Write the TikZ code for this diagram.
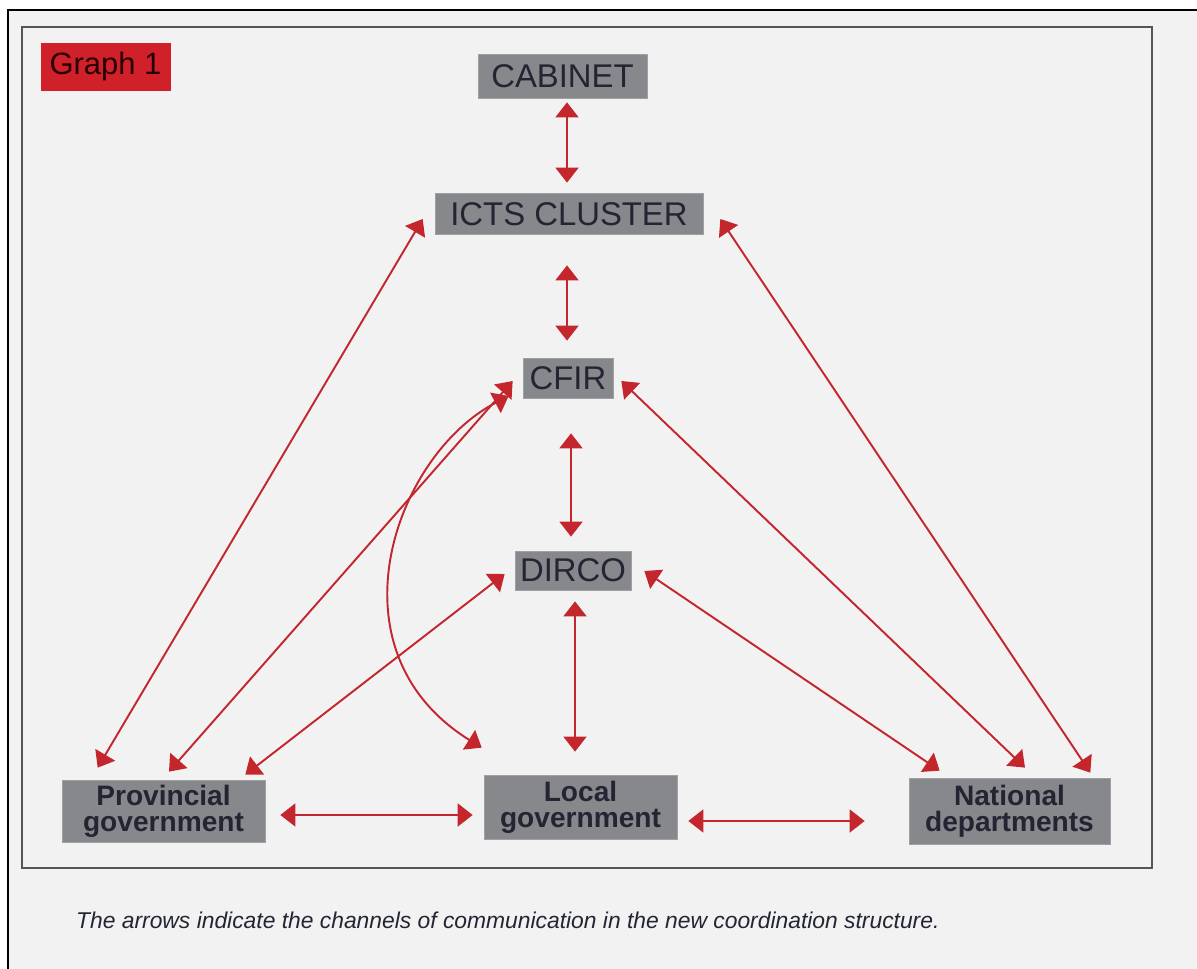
\documentclass[tikz,border=0pt]{standalone}
\usepackage{fontspec}
\setmainfont{Liberation Sans}
\usetikzlibrary{arrows.meta}
\definecolor{boxgray}{HTML}{87888C}
\definecolor{boxtext}{HTML}{232533}
\definecolor{arrowred}{HTML}{C4262E}
\definecolor{graphred}{HTML}{D0202A}
\definecolor{paper}{HTML}{F2F2F2}
\definecolor{framegray}{HTML}{555555}
\tikzset{
	box/.style={fill=boxgray, draw=boxgray!80!white, inner sep=0pt, text=boxtext, font=\fontsize{18.7}{20}\selectfont, text centered},
	unitbox/.style={box, align=center, font=\bfseries\fontsize{16}{15}\selectfont},
	link/.style={<->, >={Triangle[width=13pt,length=8.5pt]}, color=arrowred, line width=1.1pt},
	note/.style={font=\itshape\fontsize{13}{15}\selectfont, text=boxtext, anchor=base west}
}

\begin{document}
\begin{tikzpicture}[x=0.02cm, y=-0.02cm]
	
	\useasboundingbox (0,0) rectangle (1197,969);
	\fill[white] (0,0) rectangle (1197,969);
	\clip (0,0) rectangle (1197,969);
	\draw[black, line width=1.6pt, fill=paper] (8,10) rectangle (1230,1000);
	\draw[framegray, line width=1.3pt] (22,27) rectangle (1152,868);
	
	\node[box, fill=graphred, draw=graphred, text=black!85!red, font=\fontsize{17.6}{19}\selectfont, minimum width=2.58cm, minimum height=0.94cm] (graph) at (105.5,66.5) {Graph 1};
	
	\node[box, minimum width=3.38cm, minimum height=0.88cm] (cabinet) at (562.5,76) {CABINET};
	\node[box, minimum width=5.36cm, minimum height=0.82cm] (icts) at (569,214) {ICTS CLUSTER};
	\node[box, minimum width=1.80cm, minimum height=0.80cm] (cfir) at (568,378) {CFIR};
	\node[box, minimum width=2.32cm, minimum height=0.78cm] (dirco) at (573,570.5) {DIRCO};
	
	\node[unitbox, minimum width=4.06cm, minimum height=1.24cm] (prov) at (163.5,811) {Provincial\\government};
	\node[unitbox, minimum width=3.86cm, minimum height=1.28cm] (local) at (580.5,807) {Local\\government};
	\node[unitbox, minimum width=4.02cm, minimum height=1.32cm] (natl) at (1009.5,811) {National\\departments};
	
	% vertical chain
	\draw[link] ([shift={(4.5,4)}]cabinet.south) -- ([shift={(-2,-10.5)}]icts.north);
	\draw[link] ([shift={(-2,30.5)}]icts.south) -- ([shift={(-1,-17)}]cfir.north);
	\draw[link] ([shift={(3,35)}]cfir.south) -- ([shift={(-2,-14)}]dirco.north);
	\draw[link] ([shift={(2,11)}]dirco.south) -- ([shift={(-5.5,-23)}]local.north);
	
	% to provincial government
	\draw[link] ([shift={(-12,5)}]icts.west) -- ([shift={(36,-12)}]prov.north west);
	\draw[link] ([shift={(-10,3)}]cfir.west) -- ([shift={(5.5,-8)}]prov.north);
	\draw[link] ([shift={(-10,3.5)}]dirco.west) -- ([shift={(-20,-5)}]prov.north east);
	
	% to national departments
	\draw[link] ([shift={(17,5)}]icts.east) -- ([shift={(-20,-5)}]natl.north east);
	\draw[link] ([shift={(8,3)}]cfir.east) -- ([shift={(15.5,-10)}]natl.north);
	\draw[link] ([shift={(13,0.5)}]dirco.east) -- ([shift={(31,-7)}]natl.north west);
	
	% to local government
	\draw[link] ([shift={(-14,18)}]cfir.west) .. controls (395,455) and (325,650) .. ([shift={(-2,-27)}]local.north west);
	\draw[link] ([shift={(15,4)}]prov.east) -- ([shift={(-11,8)}]local.west);
	\draw[link] ([shift={(11,14)}]local.east) -- ([shift={(-44,10)}]natl.west);
	
	\node[note] (caption) at (70,928) {The arrows indicate the channels of communication in the new coordination structure.};
	
\end{tikzpicture}
\end{document}
